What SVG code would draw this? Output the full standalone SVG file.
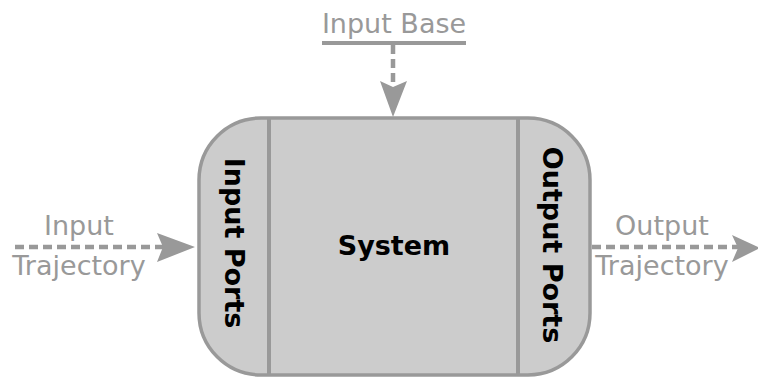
<svg xmlns="http://www.w3.org/2000/svg" width="758" height="377" viewBox="0 0 758 377">
<style>
.lbl{font-family:"DejaVu Sans",Verdana,sans-serif;font-size:27px;fill:#999999}
.bold{font-family:"DejaVu Sans",Verdana,sans-serif;font-size:27px;font-weight:bold;fill:#000}
.dash{stroke:#999999;stroke-width:4.5;stroke-dasharray:9,5;fill:none}
.line{stroke:#999999;stroke-width:4;fill:none}
.head{fill:#999999}
</style>
<rect width="758" height="377" fill="#ffffff"/>
<g id="system">
<rect x="199" y="118" width="391" height="257" rx="62" ry="62" fill="#cccccc" stroke="#999999" stroke-width="3.5"/>
<line class="line" x1="269" y1="118" x2="269" y2="375"/>
<line class="line" x1="518" y1="118" x2="518" y2="375"/>
<text class="bold" x="394" y="255" text-anchor="middle">System</text>
</g>
<g id="input-ports">
<text class="bold" transform="translate(225,243) rotate(90)" text-anchor="middle">Input Ports</text>
</g>
<g id="output-ports">
<text class="bold" transform="translate(543,245) rotate(90)" text-anchor="middle">Output Ports</text>
</g>
<g id="input-base">
<text class="lbl" x="394" y="33" text-anchor="middle">Input Base</text>
<line class="line" x1="322" y1="43" x2="466" y2="43"/>
</g>
<g id="input-trajectory">
<text class="lbl" x="79" y="235" text-anchor="middle">Input</text>
<text class="lbl" x="79" y="275" text-anchor="middle">Trajectory</text>
</g>
<g id="output-trajectory">
<text class="lbl" x="662" y="235" text-anchor="middle">Output</text>
<text class="lbl" x="662" y="275" text-anchor="middle">Trajectory</text>
</g>
<g id="connectors">
<line class="dash" x1="393" y1="45" x2="393" y2="86"/>
<polygon class="head" points="380,81 393,87 407,81 393,117"/>
<line class="dash" x1="15" y1="247" x2="163" y2="247"/>
<polygon class="head" points="157,233 163,247 157,262 195,247"/>
<line class="dash" x1="592" y1="247" x2="738" y2="247"/>
<polygon class="head" points="732,235 738,248 732,262 760,248"/>
</g>
</svg>
